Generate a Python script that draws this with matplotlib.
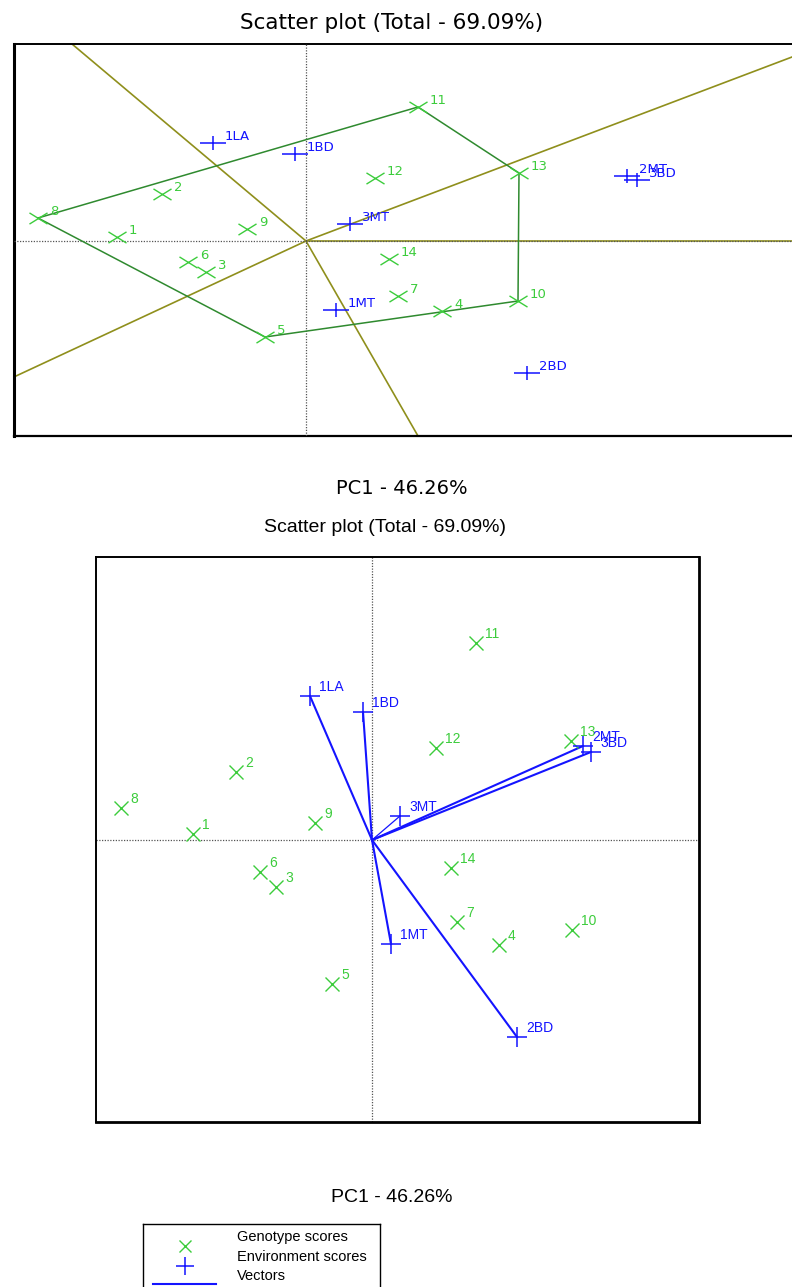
import numpy as np
import matplotlib
matplotlib.use("Agg")
import matplotlib.pyplot as plt
from matplotlib.path import Path

# ---------------- data ----------------
genotypes = ['1', '2', '3', '4', '5', '6', '7', '8', '9', '10', '11', '12', '13', '14']
environments = ['1LA', '1BD', '1MT', '2BD', '2MT', '3BD', '3MT']

# top panel (which-won-where view)
g_pc1_top = [-1.89, -1.44, -1.00, 1.36, -0.41, -1.18, 0.92, -2.68, -0.59, 2.12, 1.12, 0.69, 2.13, 0.83]
g_pc2_top = [0.04, 0.47, -0.31, -0.70, -0.96, -0.21, -0.55, 0.23, 0.12, -0.60, 1.34, 0.63, 0.68, -0.18]
e_pc1_top = [-0.93, -0.11, 0.30, 2.21, 3.21, 3.31, 0.44]
e_pc2_top = [0.98, 0.87, -0.69, -1.32, 0.65, 0.61, 0.17]
polygon_vertices = ['8', '11', '13', '10', '5']
ray_dx = [-2.34, 4.86, 1.0, 1.12, -2.90]
ray_dy = [1.97, 1.84, 0.0, -1.95, -1.35]

# bottom panel (vector view)
g_pc1_bot = [-1.79, -1.36, -0.96, 1.27, -0.40, -1.12, 0.85, -2.51, -0.57, 2.00, 1.04, 0.64, 1.99, 0.79]
g_pc2_bot = [0.06, 0.68, -0.47, -1.05, -1.44, -0.32, -0.82, 0.32, 0.17, -0.90, 1.97, 0.92, 0.99, -0.28]
e_pc1_bot = [-0.62, -0.09, 0.19, 1.45, 2.11, 2.19, 0.28]
e_pc2_bot = [1.44, 1.28, -1.04, -1.97, 0.94, 0.88, 0.24]

title_text = "Scatter plot (Total - 69.09%)"
xlabel_text = "PC1 - 46.26%"
legend_labels = ["Genotype scores", "Environment scores", "Vectors"]

# ---------------- style ----------------
GREEN = '#3ccc3c'
POLY = '#2f8a2f'
OLIVE = '#8f8f1c'
BLUE = '#1414ff'

W, H = 792, 1287
fig = plt.figure(figsize=(W / 100, H / 100), dpi=100)


def px_axes(x0, y0, x1, y1):
    return fig.add_axes([x0 / W, 1 - y1 / H, (x1 - x0) / W, (y1 - y0) / H])


# wide x marker and wide plus for the stretched top panel
wide_x = Path([(-1, -0.62), (1, 0.62), (-1, 0.62), (1, -0.62)],
              [Path.MOVETO, Path.LINETO, Path.MOVETO, Path.LINETO])
wide_plus = Path([(-1, 0), (1, 0), (0, -0.5), (0, 0.5)],
                 [Path.MOVETO, Path.LINETO, Path.MOVETO, Path.LINETO])

# ---------------- top panel ----------------
ax1 = px_axes(14, 44, 806, 436)
ax1.set_xlim(-2.92, 5.0)
ax1.set_ylim(-1.95, 1.97)
ax1.set_xticks([])
ax1.set_yticks([])
ax1.spines['right'].set_visible(False)
ax1.spines['left'].set_linewidth(2.2)
ax1.spines['top'].set_linewidth(1.4)
ax1.spines['bottom'].set_linewidth(1.6)

# sector rays
for dx, dy in zip(ray_dx, ray_dy):
    ax1.plot([0, dx * 10], [0, dy * 10], color=OLIVE, lw=1.2, zorder=2)
# origin axes
ax1.axhline(0, color='#555555', lw=0.9, ls=(0, (1, 1.2)), zorder=3)
ax1.axvline(0, color='#555555', lw=0.9, ls=(0, (1, 1.2)), zorder=3)
# polygon
idx = [genotypes.index(g) for g in polygon_vertices] + [genotypes.index(polygon_vertices[0])]
ax1.plot([g_pc1_top[i] for i in idx], [g_pc2_top[i] for i in idx], color=POLY, lw=1.1, zorder=3)

ax1.plot(g_pc1_top, g_pc2_top, ls='none', marker=wide_x, ms=13, mew=1.0, color=GREEN, zorder=4)
ax1.plot(e_pc1_top, e_pc2_top, ls='none', marker=wide_plus, ms=19, mew=1.1, color=BLUE, zorder=4)
for name, x, y in zip(genotypes, g_pc1_top, g_pc2_top):
    ax1.annotate(name, (x, y), xytext=(12, 6), textcoords='offset pixels', ha='left', va='center',
                 fontsize=9.5, color=GREEN, family='DejaVu Sans', zorder=5)
for name, x, y in zip(environments, e_pc1_top, e_pc2_top):
    ax1.annotate(name, (x, y), xytext=(12, 6), textcoords='offset pixels', ha='left', va='center',
                 fontsize=9.5, color=BLUE, family='DejaVu Sans', zorder=5)

fig.text(392 / W, 1 - 23 / H, title_text, ha='center', va='center', fontsize=15.5, family='DejaVu Sans')
fig.text(402 / W, 1 - 488 / H, xlabel_text, ha='center', va='center', fontsize=14, family='DejaVu Sans')

# ---------------- bottom panel ----------------
ax2 = px_axes(96, 557, 699, 1122)
ax2.set_xlim(-2.76, 3.27)
ax2.set_ylim(-2.82, 2.83)
ax2.set_xticks([])
ax2.set_yticks([])
for s in ['left', 'top']:
    ax2.spines[s].set_linewidth(1.4)
for s in ['right', 'bottom']:
    ax2.spines[s].set_linewidth(2.0)

ax2.axhline(0, color='#555555', lw=0.9, ls=(0, (1, 1.2)), zorder=1)
ax2.axvline(0, color='#555555', lw=0.9, ls=(0, (1, 1.2)), zorder=1)
for name, x, y in zip(environments, e_pc1_bot, e_pc2_bot):
    ax2.plot([0, x], [0, y], color=BLUE, lw=0.9 if name == '3MT' else 1.5, zorder=2)
ax2.plot(g_pc1_bot, g_pc2_bot, ls='none', marker='x', ms=9.5, mew=1.0, color=GREEN, zorder=3)
ax2.plot(e_pc1_bot, e_pc2_bot, ls='none', marker='+', ms=14, mew=1.1, color=BLUE, zorder=3)
for name, x, y in zip(genotypes, g_pc1_bot, g_pc2_bot):
    ax2.annotate(name, (x, y), xytext=(9, 9), textcoords='offset pixels', ha='left', va='center',
                 fontsize=10, color=GREEN, family='Liberation Sans', zorder=5)
for name, x, y in zip(environments, e_pc1_bot, e_pc2_bot):
    ax2.annotate(name, (x, y), xytext=(9, 9), textcoords='offset pixels', ha='left', va='center',
                 fontsize=10, color=BLUE, family='Liberation Sans', zorder=5)

fig.text(385 / W, 1 - 528 / H, title_text, ha='center', va='center', fontsize=14, family='Liberation Sans')
fig.text(392 / W, 1 - 1198 / H, xlabel_text, ha='center', va='center', fontsize=14, family='Liberation Sans')

# ---------------- legend ----------------
lax = px_axes(143, 1224, 380, 1300)
lax.set_xlim(143, 380)
lax.set_ylim(1300, 1224)
lax.set_xticks([])
lax.set_yticks([])
for s in lax.spines.values():
    s.set_linewidth(1.0)
lax.plot([185], [1246], ls='none', marker='x', ms=9, mew=1.0, color=GREEN)
lax.plot([185], [1266], ls='none', marker='+', ms=13, mew=1.1, color=BLUE)
lax.plot([153, 216], [1284, 1284], color=BLUE, lw=1.5)
for lab, yy in zip(legend_labels, [1237, 1257, 1276]):
    lax.text(237, yy, lab, ha='left', va='center', fontsize=10.5, family='Liberation Sans')

fig.savefig('out.png', dpi=100)
